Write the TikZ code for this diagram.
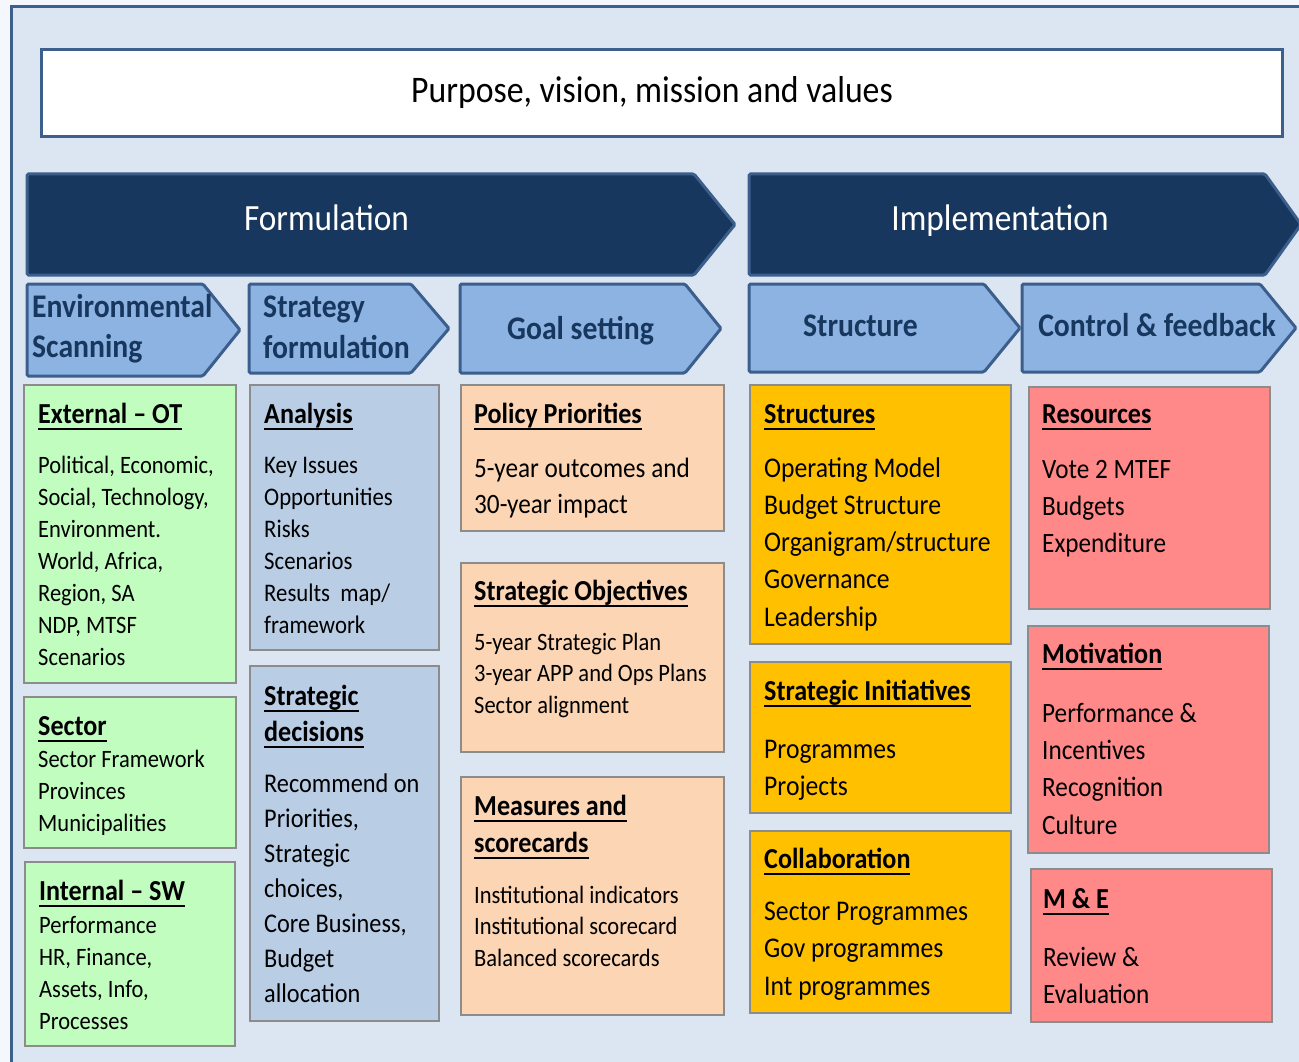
\documentclass[tikz,border=0pt]{standalone}
\usepackage{fontspec}
\setmainfont{Carlito}[FakeStretch=0.9]
\definecolor{pagebg}{HTML}{F4F7FC}
\definecolor{framebg}{HTML}{DCE6F2}
\definecolor{frameln}{HTML}{3D5F8C}
\definecolor{navy}{HTML}{17375E}
\definecolor{arrowln}{HTML}{3B5E8C}
\definecolor{subfill}{HTML}{8DB3E2}
\definecolor{cgreen}{HTML}{C2FDC0}
\definecolor{cblue}{HTML}{B9CDE5}
\definecolor{cpeach}{HTML}{FCD5B4}
\definecolor{cgold}{HTML}{FFC000}
\definecolor{csalmon}{HTML}{FF8888}
\definecolor{boxln}{HTML}{8C8C8C}
\newcommand\fs[2]{\fontsize{#1}{#2}\selectfont}
\newcommand\ulh[1]{\setbox0=\hbox{#1}\rlap{\rule[-6.5pt]{\wd0}{2pt}}\box0}
\newcommand\cbox[6]{\node[cbox, fill=#2, minimum width={(#5-#3)*1pt}, minimum height={(#6-#4)*1pt}, anchor=north west] (#1) at (#3,#4) {};}
\newcommand\blines[6]{\foreach \tx [count=\i] in {#6}{\node[tline, font=\fs{#2}{#2}, anchor=base west] (#1-\i) at (#3,{#4+(\i-1)*#5}) {\tx};}}
\newcommand\hdline[4]{\node[hd, anchor=base west] (#1) at (#2,#3) {\ulh{#4}};}
\begin{document}
\begin{tikzpicture}[x=1pt,y=-1pt,
  cbox/.style={draw=boxln, line width=1.5pt, inner sep=0pt, outer sep=0pt},
  tline/.style={inner sep=0pt, text=black},
  hd/.style={inner sep=0pt, text=black, font=\fs{29}{29}\bfseries},
  bigarrow/.style={fill=navy, draw=arrowln, line width=3pt, rounded corners=1.5pt},
  subarrow/.style={fill=subfill, draw=arrowln, line width=3pt, rounded corners=1.5pt},
  subtxt/.style={inner sep=0pt, text=navy, font=\fs{33}{33}\bfseries},
  bigtxt/.style={inner sep=0pt, text=white, font=\fs{37}{37}}]
\useasboundingbox (0,0) rectangle (1299,1062);
\clip (0,0) rectangle (1299,1062);
\fill[pagebg] (0,0) rectangle (1299,1062);
\draw[fill=framebg, draw=frameln, line width=3pt] (11,7) rectangle (1330,1090);
% purpose box
\node[draw=frameln, fill=white, line width=3pt, minimum width=1241pt, minimum height=87pt, inner sep=0pt, anchor=north west] (purpose) at (40,48) {};
\node[inner sep=0pt, font=\fs{37.5}{37.5}, anchor=base] (purposetxt) at (652,103) {Purpose, vision, mission and values};
% big arrows
\draw[bigarrow] (27,174) -- (694,174) -- (735,224.5) -- (694,275) -- (27,275) -- cycle;
\draw[bigarrow] (749,174) -- (1265,174) -- (1301,224.5) -- (1265,275) -- (749,275) -- cycle;
\node[bigtxt, anchor=base] (formulation) at (326.5,230) {Formulation};
\node[bigtxt, anchor=base] (implementation) at (1000,230) {Implementation};
% sub arrows
\draw[subarrow] (27,284) -- (203,284) -- (240,330) -- (203,376) -- (27,376) -- cycle;
\draw[subarrow] (249,284) -- (411,284) -- (449,328.5) -- (411,373) -- (249,373) -- cycle;
\draw[subarrow] (460,284) -- (685,284) -- (721,328.5) -- (685,373) -- (460,373) -- cycle;
\draw[subarrow] (749,284) -- (984,284) -- (1020,328) -- (984,372) -- (749,372) -- cycle;
\draw[subarrow] (1022,284) -- (1260,284) -- (1296,328) -- (1260,372) -- (1022,372) -- cycle;
\node[subtxt, anchor=base west] (env1) at (32,317) {Environmental};
\node[subtxt, anchor=base west] (env2) at (32,357) {Scanning};
\node[subtxt, anchor=base west] (str1) at (263,317) {Strategy};
\node[subtxt, anchor=base west] (str2) at (263,358) {formulation};
\node[subtxt, anchor=base] (goal) at (580.5,339) {Goal setting};
\node[subtxt, anchor=base] (structure) at (860.5,336) {Structure};
\node[subtxt, anchor=base] (control) at (1157,336) {Control \& feedback};
% content boxes
\cbox{ext}{cgreen}{24}{385}{236}{683}
\cbox{sector}{cgreen}{24}{697}{236}{848}
\cbox{internal}{cgreen}{25}{862}{235}{1046}
\cbox{analysis}{cblue}{250}{385}{439}{650}
\cbox{decisions}{cblue}{250}{666}{439}{1021}
\cbox{policy}{cpeach}{461}{385}{724}{531}
\cbox{objectives}{cpeach}{461}{563}{724}{752}
\cbox{measures}{cpeach}{461}{777}{724}{1015}
\cbox{structures}{cgold}{750}{385}{1011}{644}
\cbox{initiatives}{cgold}{750}{662}{1011}{813}
\cbox{collab}{cgold}{750}{831}{1011}{1013}
\cbox{resources}{csalmon}{1029}{387}{1270}{609}
\cbox{motivation}{csalmon}{1028}{626}{1269}{853}
\cbox{me}{csalmon}{1031}{869}{1272}{1022}
% column 1
\hdline{ext-h}{38}{423}{External – OT}
\blines{ext}{25}{38}{473}{32}{{Political, Economic,},{Social, Technology,},Environment.,{World, Africa,},{Region, SA},{NDP, MTSF},Scenarios}
\hdline{sector-h}{38}{735}{Sector}
\blines{sector}{25}{38}{767}{32}{Sector Framework,Provinces,Municipalities}
\hdline{internal-h}{39}{900}{Internal – SW}
\blines{internal}{25}{39}{933}{32.3}{Performance,{HR, Finance,},{Assets, Info,},Processes}
% column 2
\hdline{analysis-h}{264}{423}{Analysis}
\blines{analysis}{25.3}{264}{473}{32}{Key Issues,Opportunities,Risks,Scenarios,Results\ \ map/,framework}
\hdline{decisions-h1}{264}{705}{Strategic}
\hdline{decisions-h2}{264}{741}{decisions}
\blines{decisions}{27}{264}{792}{35}{Recommend on,{Priorities,},Strategic,{choices,},{Core Business,},Budget,allocation}
% column 3
\hdline{policy-h}{474}{423}{Policy Priorities}
\blines{policy}{28}{474}{477}{36.7}{5-year outcomes and,30-year impact}
\hdline{objectives-h}{474}{600}{Strategic Objectives}
\blines{objectives}{25}{474}{650}{31.7}{5-year Strategic Plan,3-year APP and Ops Plans,Sector alignment}
\hdline{measures-h1}{474}{815}{Measures and}
\hdline{measures-h2}{474}{852}{scorecards}
\blines{measures}{25}{474}{903}{31.7}{Institutional indicators,Institutional scorecard,Balanced scorecards}
% column 4
\hdline{structures-h}{764}{423}{Structures}
\blines{structures}{28.5}{764}{477}{37.3}{Operating Model,Budget Structure,Organigram/structure,Governance,Leadership}
\hdline{initiatives-h}{764}{700}{Strategic Initiatives}
\blines{initiatives}{28.5}{764}{758.3}{36.7}{Programmes,Projects}
\hdline{collab-h}{764}{868}{Collaboration}
\blines{collab}{28.5}{764}{920}{37.5}{Sector Programmes,Gov programmes,Int programmes}
% column 5
\hdline{resources-h}{1042}{423.3}{Resources}
\blines{resources}{28}{1042}{478}{37.3}{Vote 2 MTEF,Budgets,Expenditure}
\hdline{motivation-h}{1042}{663}{Motivation}
\blines{motivation}{28}{1042}{722}{37.4}{Performance \&,Incentives,Recognition,Culture}
\hdline{me-h}{1043}{908}{M \& E}
\blines{me}{28}{1043}{966}{37.3}{Review \&,Evaluation}
\end{tikzpicture}
\end{document}
